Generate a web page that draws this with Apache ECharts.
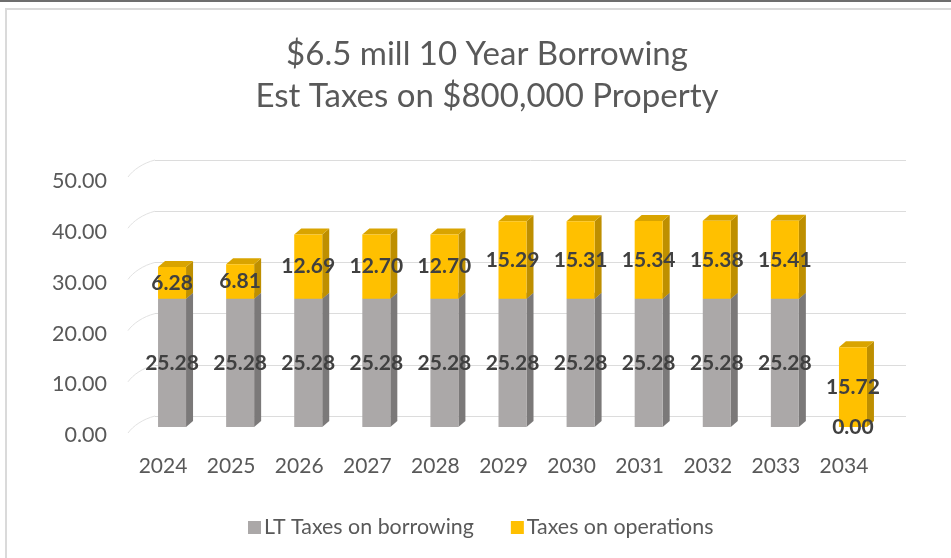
<!DOCTYPE html>
<html>
<head>
<meta charset="utf-8">
<script src="https://cdn.jsdelivr.net/npm/echarts@6/dist/echarts.min.js"></script>
<style>
  html, body { margin: 0; padding: 0; background: #ffffff; }
  #chart { width: 951px; height: 558px; }
</style>
</head>
<body>
<div id="chart"></div>
<script>
// Tax years and the two stacked components (per year, $)
const years = ['2024', '2025', '2026', '2027', '2028', '2029', '2030', '2031', '2032', '2033', '2034'];
const borrowing = [25.28, 25.28, 25.28, 25.28, 25.28, 25.28, 25.28, 25.28, 25.28, 25.28, 0.00];
const operations = [6.28, 6.81, 12.69, 12.70, 12.70, 15.29, 15.31, 15.34, 15.38, 15.41, 15.72];
const valueTicks = [0, 10, 20, 30, 40, 50];

const FONT = 'Lato, "Open Sans", "Noto Sans", sans-serif';
const TEXT = '#595959';

// Face colours for the pseudo-3D columns: [front, side, top]
const faces = [
  { front: '#ABA8A8', side: '#7B7979', top: '#8F8D8D' },
  { front: '#FFC000', side: '#BE8F00', top: '#D9A400' }
];
const DX = 7, DY = -6, HALF = 14;

// Side and top faces, one item per stacked segment: [category, base, top, segment]
const faceData = [];
[borrowing, operations].forEach(function (arr, k) {
  arr.forEach(function (v, i) {
    const base = k === 0 ? 0 : borrowing[i];
    faceData.push([i, base, base + v, k]);
  });
});

function renderFaces(params, api) {
  const i = api.value(0), lo = api.value(1), hi = api.value(2), k = api.value(3);
  if (hi <= lo) return null;
  const pb = api.coord([i, lo]);
  const pt = api.coord([i, hi]);
  const x0 = pb[0] - HALF, x1 = pb[0] + HALF;
  const yb = pb[1], yt = pt[1];
  const c = faces[k];
  return {
    type: 'group',
    children: [
      { type: 'polygon', shape: { points: [[x1, yb], [x1 + DX, yb + DY], [x1 + DX, yt + DY], [x1, yt]] },
        style: { fill: c.side } },
      { type: 'polygon', shape: { points: [[x0, yt], [x1, yt], [x1 + DX, yt + DY], [x0 + DX, yt + DY]] },
        style: { fill: c.top } }
    ]
  };
}

// Receding lines on the left wall, one per value tick
function renderWall(params, api) {
  const p = api.coord([0, api.value(0)]);
  return {
    type: 'bezierCurve',
    shape: { x1: p[0], y1: p[1], x2: p[0] - 27, y2: p[1] + 17, cpx1: p[0] - 12, cpy1: p[1] + 3, cpx2: p[0] - 22, cpy2: p[1] + 10 },
    style: { stroke: '#E2E2E2', lineWidth: 1, fill: null }
  };
}

const labelStyle = {
  show: true,
  position: 'inside',
  fontFamily: FONT,
  fontWeight: 'bold',
  fontSize: 21,
  color: '#404040',
  formatter: function (p) { return Number(p.value).toFixed(2); }
};

const chart = echarts.init(document.getElementById('chart'), null, { renderer: 'canvas' });

chart.setOption({
  backgroundColor: '#ffffff',
  animation: false,
  title: {
    text: '$6.5 mill 10 Year Borrowing\nEst Taxes on $800,000 Property',
    left: 482,
    top: 28,
    textAlign: 'center',
    textStyle: { fontFamily: FONT, fontSize: 33, fontWeight: 'normal', color: TEXT, lineHeight: 42 }
  },
  legend: {
    left: 243,
    top: 512,
    itemWidth: 13,
    itemHeight: 13,
    itemGap: 37,
    icon: 'rect',
    textStyle: { fontFamily: FONT, fontSize: 21.4, color: TEXT, padding: [0, 0, 0, -2] },
    data: ['LT Taxes on borrowing', 'Taxes on operations']
  },
  graphic: [
    { type: 'rect', shape: { x: 0, y: 0, width: 951, height: 2 }, style: { fill: '#6E6E6E' }, silent: true },
    { type: 'rect', shape: { x: 5, y: 8, width: 946, height: 2 }, style: { fill: '#DADADA' }, silent: true },
    { type: 'rect', shape: { x: 5, y: 8, width: 2, height: 550 }, style: { fill: '#DADADA' }, silent: true }
  ],
  grid: [
    // front plane of the columns
    { left: 138, right: 64, top: 173.5, bottom: 131 },
    // back wall carrying the gridlines
    { left: 155, right: 45, top: 160, bottom: 142 },
    // front floor edge carrying the value labels
    { left: 138, right: 64, top: 181.5, bottom: 123 }
  ],
  xAxis: [
    {
      type: 'category', gridIndex: 0, data: years,
      axisLine: { show: false }, axisTick: { show: false },
      axisLabel: { fontFamily: FONT, fontSize: 21, color: TEXT, margin: 29, padding: [0, 18, 0, 0] }
    },
    { type: 'value', gridIndex: 1, min: 0, max: 1, show: false },
    { type: 'value', gridIndex: 2, min: 0, max: 1, show: false }
  ],
  yAxis: [
    {
      type: 'value', gridIndex: 0, min: 0, max: 50, interval: 10, show: false
    },
    {
      type: 'value', gridIndex: 1, min: 0, max: 50, interval: 10,
      axisLine: { show: false }, axisTick: { show: false }, axisLabel: { show: false },
      splitLine: { show: true, lineStyle: { color: '#DCDCDC', width: 1 } }
    },
    {
      type: 'value', gridIndex: 2, min: 0, max: 50, interval: 10,
      axisLine: { show: false }, axisTick: { show: false }, splitLine: { show: false },
      axisLabel: { fontFamily: FONT, fontSize: 21.5, color: TEXT, margin: 31,
        formatter: function (v) { return v.toFixed(2); } }
    }
  ],
  series: [
    {
      type: 'custom', name: 'wall', xAxisIndex: 1, yAxisIndex: 1, z: 0, silent: true,
      data: valueTicks.map(function (v) { return [v]; }),
      encode: { y: 0 },
      renderItem: renderWall
    },
    {
      type: 'custom', name: 'faces', xAxisIndex: 0, yAxisIndex: 0, z: 1, silent: true,
      data: faceData,
      encode: { x: 0, y: [1, 2] },
      renderItem: renderFaces
    },
    {
      type: 'bar', name: 'LT Taxes on borrowing', stack: 'tax', barWidth: 28, z: 2,
      xAxisIndex: 0, yAxisIndex: 0,
      itemStyle: { color: faces[0].front },
      label: labelStyle,
      data: borrowing
    },
    {
      type: 'bar', name: 'Taxes on operations', stack: 'tax', barWidth: 28, z: 2,
      xAxisIndex: 0, yAxisIndex: 0,
      itemStyle: { color: faces[1].front },
      label: labelStyle,
      data: operations
    }
  ]
});
</script>
</body>
</html>
